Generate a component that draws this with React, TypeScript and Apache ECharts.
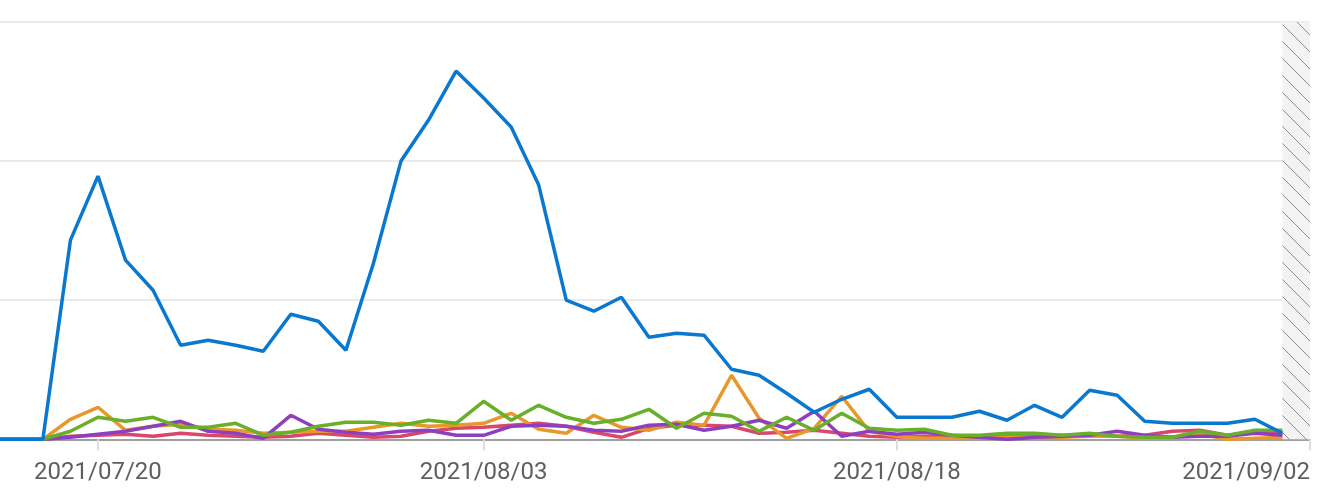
import React, { useEffect, useRef } from "react";
import * as echarts from "echarts";

const categories = [
  "2021/07/16", "2021/07/17", "2021/07/18", "2021/07/19", "2021/07/20", "2021/07/21", "2021/07/22", "2021/07/23",
  "2021/07/24", "2021/07/25", "2021/07/26", "2021/07/27", "2021/07/28", "2021/07/29", "2021/07/30", "2021/07/31",
  "2021/08/01", "2021/08/02", "2021/08/03", "2021/08/04", "2021/08/05", "2021/08/06", "2021/08/07", "2021/08/08",
  "2021/08/09", "2021/08/10", "2021/08/11", "2021/08/12", "2021/08/13", "2021/08/14", "2021/08/15", "2021/08/16",
  "2021/08/17", "2021/08/18", "2021/08/19", "2021/08/20", "2021/08/21", "2021/08/22", "2021/08/23", "2021/08/24",
  "2021/08/25", "2021/08/26", "2021/08/27", "2021/08/28", "2021/08/29", "2021/08/30", "2021/08/31", "2021/09/01",
  "2021/09/02",
];

const tickLabels = ["2021/07/20", "2021/08/03", "2021/08/18", "2021/09/02"];

const blueValues = [
  0, 0, 0, 199, 263, 179, 149, 94, 99, 94, 88, 125, 118, 89, 176, 278,
  319, 368, 341, 312, 254, 139, 128, 142, 102, 106, 104, 70, 64, 46, 27, 40,
  50, 22, 22, 22, 28, 19, 34, 22, 49, 44, 18, 16, 16, 16, 20, 6, null,
];

const orangeValues = [
  0, 0, 0, 20, 32, 9, 13, 15, 10, 9, 6, 7, 8, 8, 12, 16,
  13, 14, 16, 26, 10, 6, 24, 12, 9, 17, 14, 64, 21, 1, 11, 43,
  8, 3, 1, 1, 2, 2, 2, 2, 3, 3, 1, 2, 5, 0, 1, 2, null,
];

const greenValues = [
  0, 0, 0, 8, 22, 18, 22, 12, 12, 16, 4, 7, 13, 17, 17, 14,
  19, 16, 38, 19, 34, 22, 16, 20, 30, 11, 26, 23, 8, 22, 9, 26,
  11, 9, 10, 4, 4, 6, 6, 4, 6, 3, 2, 2, 8, 4, 9, 9, null,
];

const purpleValues = [
  0, 0, 0, 2, 5, 8, 13, 18, 8, 6, 1, 24, 10, 7, 5, 8,
  9, 4, 4, 13, 14, 13, 9, 8, 14, 15, 9, 13, 19, 11, 28, 3,
  8, 5, 7, 4, 2, 0, 2, 3, 4, 8, 4, 2, 3, 3, 6, 4, null,
];

const redValues = [
  0, 0, 0, 3, 4, 5, 3, 6, 4, 3, 2, 3, 6, 4, 2, 3,
  8, 11, 12, 14, 16, 13, 7, 2, 11, 14, 14, 13, 6, 7, 9, 6,
  3, 2, 3, 3, 3, 3, 3, 4, 4, 3, 4, 8, 9, 4, 7, 6, null,
];

const incompleteRange = ["2021/09/01", "2021/09/02"];

const seriesDefs = [
  { name: "red", color: "#d9486a", data: redValues },
  { name: "orange", color: "#e8982a", data: orangeValues },
  { name: "purple", color: "#8e3fbf", data: purpleValues },
  { name: "green", color: "#6aaf2a", data: greenValues },
  { name: "blue", color: "#0a78cf", data: blueValues },
];

function makeHatch() {
  const size = 17;
  const c = document.createElement("canvas");
  c.width = size;
  c.height = size;
  const ctx = c.getContext("2d");
  if (ctx) {
    ctx.fillStyle = "#f3f3f3";
    ctx.fillRect(0, 0, size, size);
    ctx.strokeStyle = "#8c8c8c";
    ctx.lineWidth = 1;
    ctx.beginPath();
    ctx.moveTo(-2, -2);
    ctx.lineTo(size + 2, size + 2);
    ctx.moveTo(-2, size - 2);
    ctx.lineTo(2, size + 2);
    ctx.moveTo(size - 2, -2);
    ctx.lineTo(size + 2, 2);
    ctx.stroke();
  }
  return { image: c, repeat: "repeat", imageWidth: size, imageHeight: size };
}

export default function App() {
  const ref = useRef<HTMLDivElement>(null);

  useEffect(() => {
    if (!ref.current) return;
    const chart = echarts.init(ref.current, null, { renderer: "svg" });
    const showLabel = (_i: number, v: string) => tickLabels.includes(v);
    const hatch = makeHatch();

    chart.setOption({
      animation: false,
      textStyle: { fontFamily: "Roboto" },
      grid: {
        left: -12.2,
        right: 20,
        top: 22,
        bottom: 64.7,
        containLabel: false,
        outerBoundsMode: "none",
      },
      xAxis: {
        type: "category",
        data: categories,
        boundaryGap: false,
        axisLine: { show: true, lineStyle: { color: "#9e9e9e", width: 2 } },
        axisTick: {
          show: true,
          interval: showLabel,
          length: 11,
          lineStyle: { color: "#dddddd", width: 2 },
        },
        axisLabel: {
          show: true,
          interval: showLabel,
          fontSize: 24,
          fontFamily: "Roboto",
          color: "#5f5f5f",
          margin: 20,
          alignMaxLabel: "right",
        },
        splitLine: { show: false },
      },
      yAxis: {
        type: "value",
        min: 0,
        max: 417,
        interval: 139,
        axisLabel: { show: false },
        axisLine: { show: false },
        axisTick: { show: false },
        splitLine: { show: true, lineStyle: { color: "#e3e3e3", width: 1.5 } },
      },
      series: seriesDefs.map((s, idx) => ({
        name: s.name,
        type: "line",
        data: s.data,
        symbol: "none",
        showSymbol: false,
        lineStyle: { color: s.color, width: 3.5 },
        itemStyle: { color: s.color },
        z: 2 + idx,
        markArea:
          idx === 0
            ? {
                silent: true,
                itemStyle: { color: hatch },
                data: [[{ xAxis: incompleteRange[0] }, { xAxis: incompleteRange[1] }]],
              }
            : undefined,
      })),
    });

    return () => chart.dispose();
  }, []);

  return (
    <div
      ref={ref}
      style={{ position: "fixed", left: 0, top: 0, width: 1330, height: 504 }}
    />
  );
}
